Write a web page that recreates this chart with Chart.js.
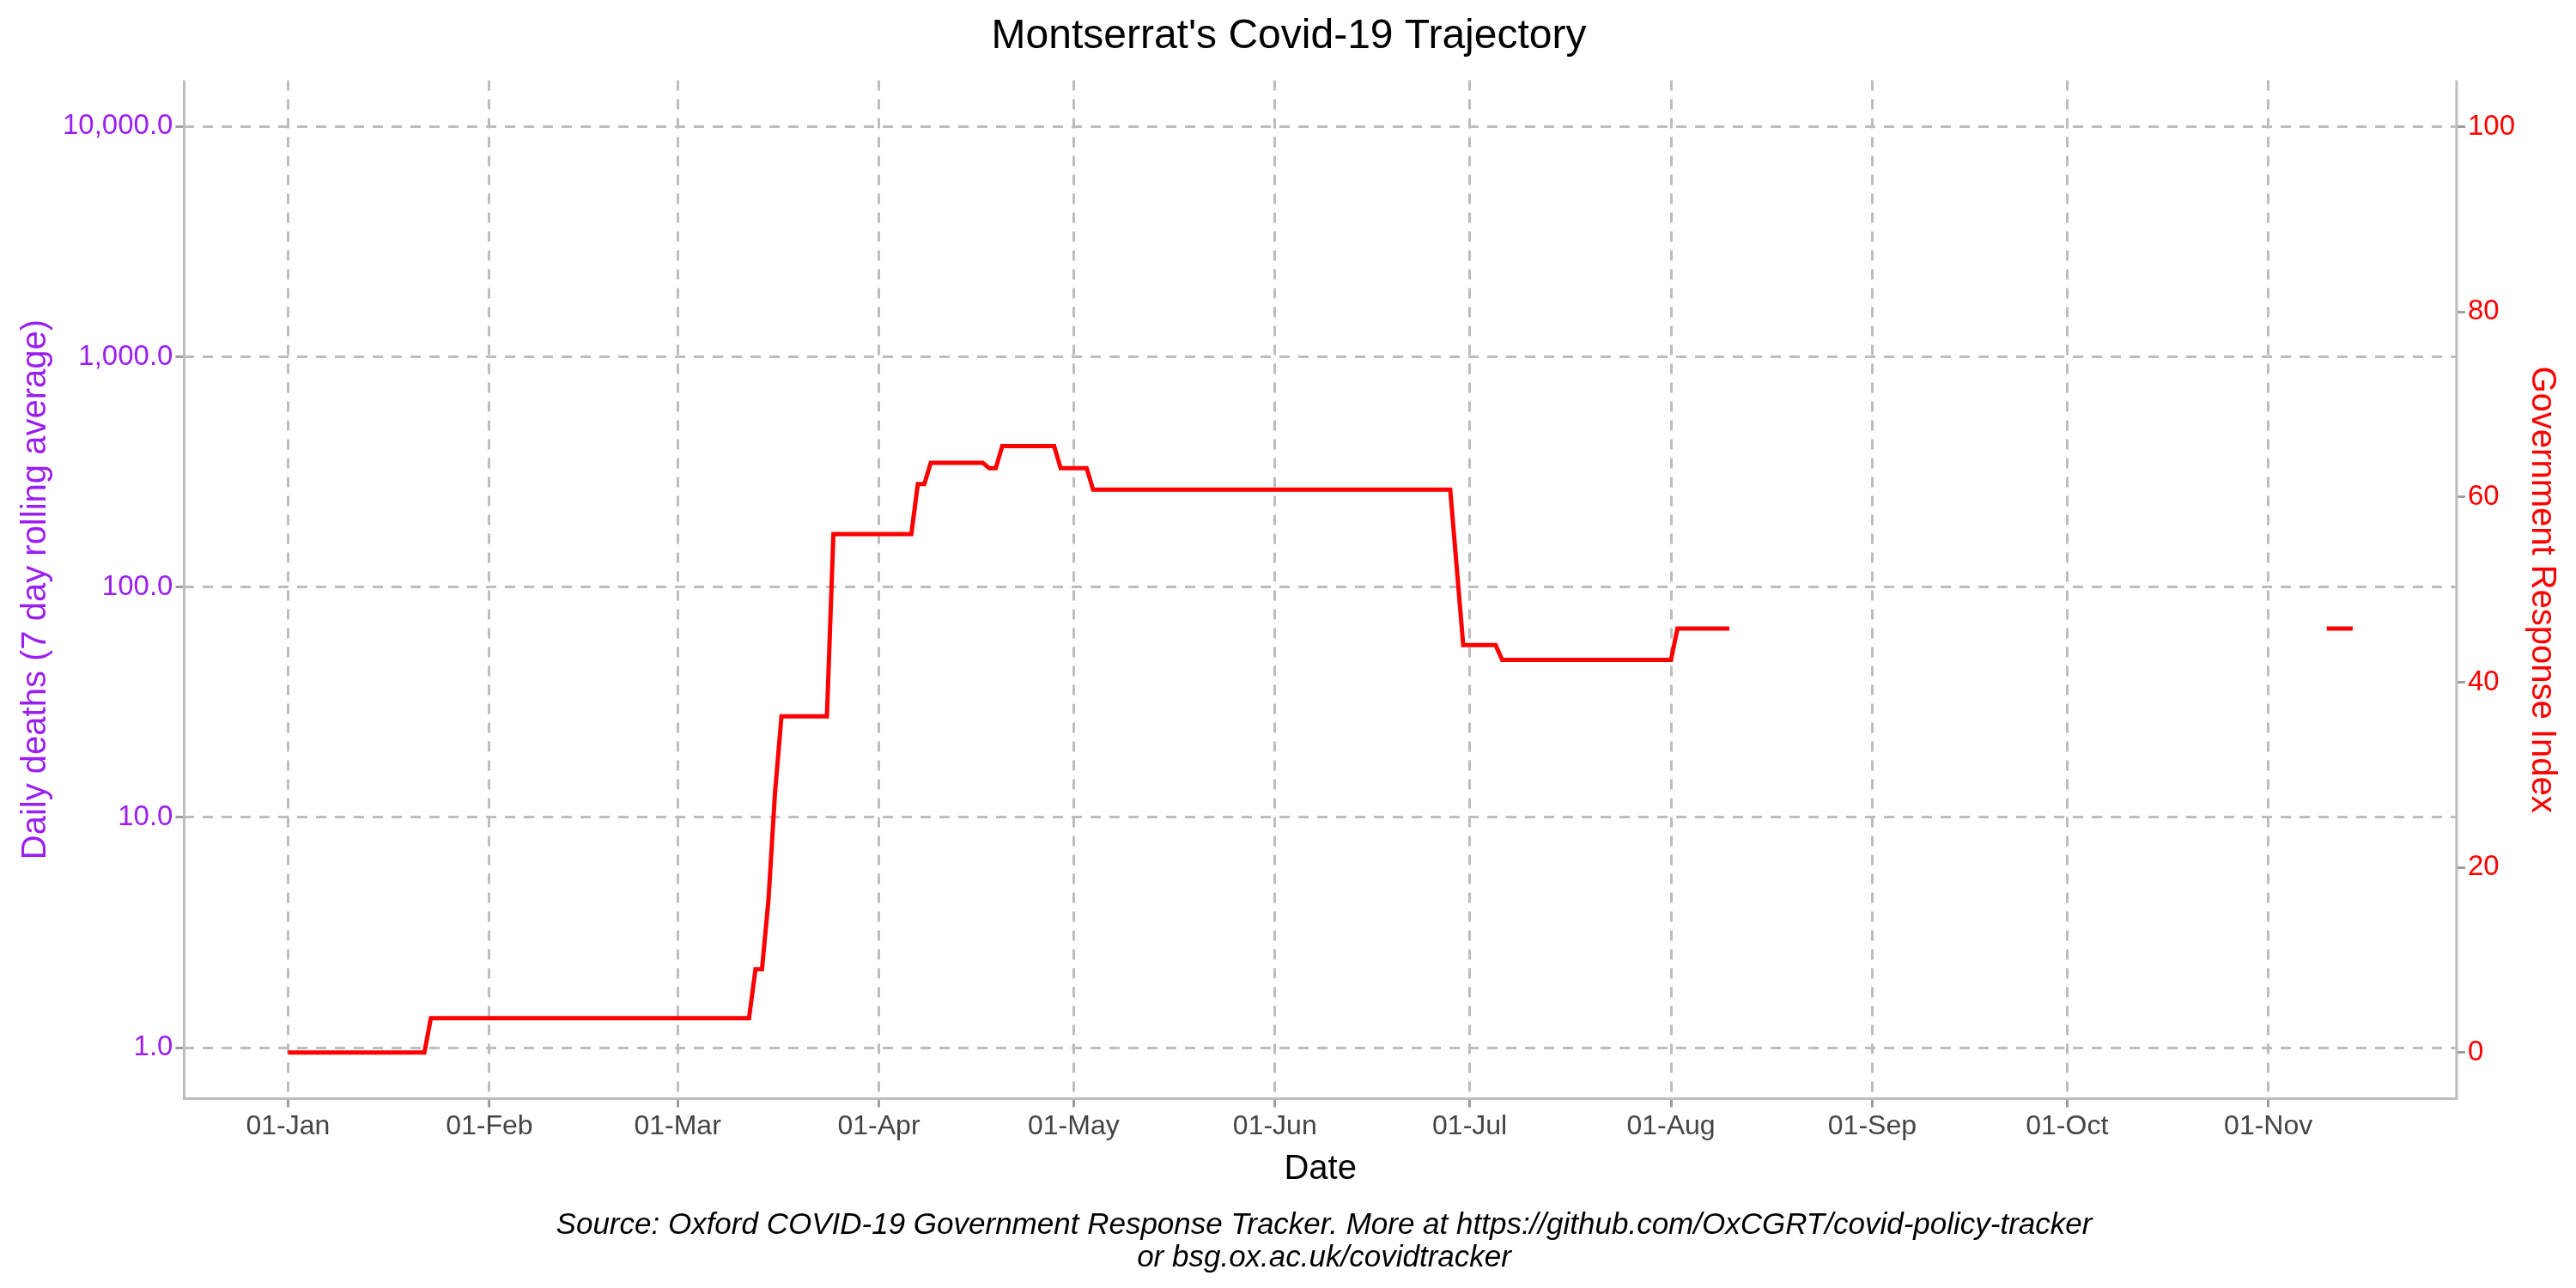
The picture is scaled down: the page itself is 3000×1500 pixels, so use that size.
<!DOCTYPE html>
<html><head><meta charset="utf-8">
<script src="https://cdn.jsdelivr.net/npm/chart.js@4/dist/chart.umd.min.js"></script>
<style>html,body{margin:0;background:#fff}#c{display:block}</style>
</head><body>
<canvas id="c" width="3000" height="1500"></canvas>
<script>
// días desde 01-Jan-2020 y valores del índice (puntos de quiebre)
const DIAS    = [0, 21, 22, 71, 72, 73, 74, 75, 76, 83, 84, 96, 97, 98, 99, 107, 108, 109, 110, 111, 118, 119, 123, 124, 179, 181, 186, 187, 213, 214, 222, 223, 314, 318];
const INDICE  = [0, 0, 3.7, 3.7, 9, 9, 16.5, 28, 36.3, 36.3, 56, 56, 61.4, 61.4, 63.7, 63.7, 63.1, 63.1, 65.5, 65.5, 65.5, 63.1, 63.1, 60.8, 60.8, 44, 44, 42.4, 42.4, 45.8, 45.8, null, 45.8, 45.8];
const MES_DIAS = [0, 31, 60, 91, 121, 152, 182, 213, 244, 274, 305];
const MES_LBL  = ['01-Jan','01-Feb','01-Mar','01-Apr','01-May','01-Jun','01-Jul','01-Aug','01-Sep','01-Oct','01-Nov'];
const MUERTES_TICKS = [1, 10, 100, 1000, 10000];
const INDICE_TICKS  = [0, 20, 40, 60, 80, 100];

const FONT = 'Liberation Sans, Arial, sans-serif';
const GRID = { color: '#bdbdbd', lineWidth: 3, tickColor: '#9e9e9e', tickLength: 10 };
const BORDE = { display: false, dash: [12, 10] };

const extras = {
  id: 'extras',
  afterDraw(ch) {
    const c = ch.ctx, a = ch.chartArea;
    c.save();
    c.strokeStyle = '#bdbdbd';
    c.lineWidth = 3;
    c.beginPath();
    c.moveTo(a.left, a.top); c.lineTo(a.left, a.bottom); c.lineTo(a.right, a.bottom); c.lineTo(a.right, a.top);
    c.stroke();
    c.font = 'italic 35px ' + FONT;
    c.fillStyle = '#000';
    c.textAlign = 'center';
    c.fillText('Source: Oxford COVID-19 Government Response Tracker. More at https://github.com/OxCGRT/covid-policy-tracker', 1542, 1437);
    c.fillText('or bsg.ox.ac.uk/covidtracker', 1542, 1475);
    c.restore();
  }
};

new Chart(document.getElementById('c'), {
  type: 'line',
  data: {
    datasets: [{
      label: 'Government Response Index',
      data: DIAS.map((d, i) => ({ x: d, y: INDICE[i] })),
      borderColor: '#ff0000',
      borderWidth: 5,
      pointRadius: 0,
      spanGaps: false,
      yAxisID: 'y2',
    }, {
      label: 'Daily deaths',
      data: [],
      yAxisID: 'y',
    }],
  },
  plugins: [extras],
  options: {
    responsive: false,
    animation: false,
    layout: { padding: { left: 14, right: 12, top: 0, bottom: 110 } },
    plugins: {
      legend: { display: false },
      tooltip: { enabled: false },
      title: { display: true, text: "Montserrat's Covid-19 Trajectory", color: '#000', font: { family: FONT, size: 48, weight: 'normal' }, padding: { top: 14, bottom: 22 } },
    },
    scales: {
      x: {
        type: 'linear', min: -16, max: 334,
        afterBuildTicks: a => { a.ticks = MES_DIAS.map(v => ({ value: v })); },
        ticks: { callback: v => MES_LBL[MES_DIAS.indexOf(v)], color: '#444', font: { family: FONT, size: 32 }, maxRotation: 0, autoSkip: false },
        grid: GRID,
        border: BORDE,
        title: { display: true, text: 'Date', color: '#000', font: { family: FONT, size: 40 }, padding: { top: 4 } },
      },
      y: {
        type: 'logarithmic', position: 'left', min: 0.631, max: 15849,
        afterBuildTicks: a => { a.ticks = MUERTES_TICKS.map(v => ({ value: v })); },
        ticks: { callback: v => v.toLocaleString('en-US', { minimumFractionDigits: 1, maximumFractionDigits: 1 }), color: '#9b1ff0', font: { family: FONT, size: 33 } },
        grid: GRID,
        border: BORDE,
        title: { display: true, text: 'Daily deaths (7 day rolling average)', color: '#9b1ff0', font: { family: FONT, size: 40 } },
      },
      y2: {
        type: 'linear', position: 'right', min: -5, max: 105,
        afterBuildTicks: a => { a.ticks = INDICE_TICKS.map(v => ({ value: v })); },
        ticks: { color: '#ff0000', font: { family: FONT, size: 33 } },
        grid: { drawOnChartArea: false, tickColor: '#9e9e9e', tickLength: 10, lineWidth: 3 },
        border: { display: false },
        title: { display: true, text: 'Government Response Index', color: '#ff0000', font: { family: FONT, size: 40 } },
      },
    },
  },
});
</script>
</body></html>
